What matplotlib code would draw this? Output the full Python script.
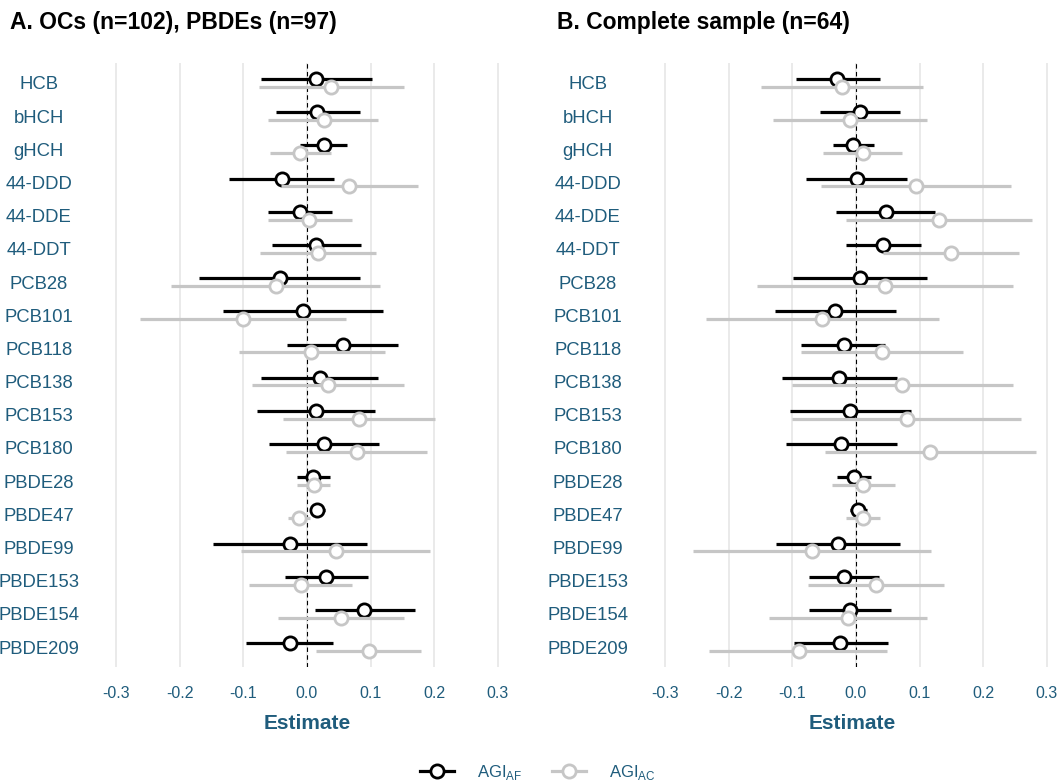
#Forest plots of AGI estimates by chemical

import numpy as np
import matplotlib
matplotlib.use("Agg")
import matplotlib.pyplot as plt
from matplotlib.lines import Line2D

plt.rcParams["font.family"] = ["Liberation Sans", "DejaVu Sans"]
plt.rcParams["mathtext.fontset"] = "custom"
plt.rcParams["mathtext.rm"] = "Liberation Sans"

chems = ["HCB", "bHCH", "gHCH", "44-DDD", "44-DDE", "44-DDT", "PCB28", "PCB101",
         "PCB118", "PCB138", "PCB153", "PCB180", "PBDE28", "PBDE47", "PBDE99",
         "PBDE153", "PBDE154", "PBDE209"]

# panel A: OCs (n=102), PBDEs (n=97)
a_af_est = [0.014, 0.016, 0.026, -0.040, -0.011, 0.014, -0.043, -0.007, 0.056, 0.020,
            0.014, 0.027, 0.010, 0.016, -0.027, 0.030, 0.090, -0.027]
a_af_lo = [-0.073, -0.049, -0.011, -0.123, -0.061, -0.055, -0.170, -0.132, -0.031, -0.072,
           -0.078, -0.059, -0.015, 0.004, -0.147, -0.035, 0.012, -0.096]
a_af_hi = [0.102, 0.083, 0.063, 0.043, 0.040, 0.085, 0.083, 0.119, 0.143, 0.111,
           0.107, 0.113, 0.036, 0.028, 0.094, 0.096, 0.169, 0.041]
a_ac_est = [0.038, 0.026, -0.011, 0.066, 0.003, 0.018, -0.048, -0.100, 0.007, 0.033,
            0.082, 0.078, 0.011, -0.013, 0.045, -0.010, 0.054, 0.098]
a_ac_lo = [-0.075, -0.061, -0.058, -0.041, -0.062, -0.074, -0.213, -0.263, -0.107, -0.086,
           -0.037, -0.033, -0.015, -0.030, -0.104, -0.091, -0.045, 0.014]
a_ac_hi = [0.153, 0.112, 0.038, 0.175, 0.070, 0.108, 0.115, 0.062, 0.122, 0.153,
           0.201, 0.189, 0.036, 0.004, 0.193, 0.071, 0.152, 0.179]

# panel B: complete sample (n=64)
b_af_est = [-0.029, 0.006, -0.004, 0.001, 0.047, 0.043, 0.006, -0.033, -0.019, -0.026,
            -0.010, -0.023, -0.003, 0.003, -0.028, -0.019, -0.009, -0.025]
b_af_lo = [-0.095, -0.057, -0.036, -0.078, -0.031, -0.016, -0.099, -0.128, -0.087, -0.116,
           -0.104, -0.110, -0.029, -0.009, -0.126, -0.074, -0.074, -0.098]
b_af_hi = [0.038, 0.069, 0.028, 0.081, 0.124, 0.102, 0.111, 0.063, 0.046, 0.065,
           0.086, 0.065, 0.023, 0.017, 0.070, 0.036, 0.055, 0.050]
b_ac_est = [-0.022, -0.010, 0.011, 0.094, 0.130, 0.149, 0.045, -0.054, 0.041, 0.073,
            0.080, 0.117, 0.011, 0.011, -0.069, 0.031, -0.013, -0.090]
b_ac_lo = [-0.149, -0.130, -0.051, -0.055, -0.015, 0.043, -0.155, -0.236, -0.087, -0.100,
           -0.101, -0.048, -0.038, -0.016, -0.256, -0.075, -0.136, -0.231]
b_ac_hi = [0.106, 0.112, 0.072, 0.244, 0.277, 0.256, 0.247, 0.130, 0.169, 0.247,
           0.260, 0.283, 0.061, 0.038, 0.118, 0.138, 0.111, 0.049]

xticks = [-0.3, -0.2, -0.1, 0.0, 0.1, 0.2, 0.3]

teal = "#1f5c7c"
grey = "#c6c6c6"
grid = "#e8e8e8"
dodge = 0.117

W, H = 1059, 782
fig = plt.figure(figsize=(W / 100, H / 100), dpi=100)

def panel(left, right, xmax, title, tx, af, ac):
    ax = fig.add_axes([left / W, (H - 667) / H, (right - left) / W, (667 - 63) / H])
    y = np.arange(len(chems))
    for i, (est, lo, hi) in enumerate([af, ac]):
        col = "black" if i == 0 else grey
        yy = y - dodge if i == 0 else y + dodge
        ax.hlines(yy, lo, hi, color=col, lw=2.3, zorder=3 + 2 * i)
        ax.plot(est, yy, "o", ms=9.5, mfc="white", mec=col, mew=2.0, ls="none",
                zorder=4 + 2 * i)
    ax.axvline(0, color="black", lw=0.8, ls=(0, (4, 3)), zorder=2)
    for t in xticks:
        ax.axvline(t, color=grid, lw=1.3, zorder=0)
    ax.set_xlim(-0.33, xmax)
    ax.set_ylim(len(chems) - 0.4, -0.6)
    ax.set_xticks(xticks)
    ax.set_xticklabels(["{:.1f}".format(t) for t in xticks])
    ax.set_yticks(y)
    ax.set_yticklabels(chems, ha="center")
    ax.tick_params(axis="y", length=0, pad=42, labelsize=13.3, labelcolor=teal)
    ax.tick_params(axis="x", length=0, pad=14, labelsize=11.5, labelcolor=teal)
    ax.set_xlabel("Estimate", fontsize=15, fontweight="bold", color=teal, labelpad=9)
    for s in ax.spines.values():
        s.set_visible(False)
    fig.text(tx / W, 1 - 22 / H, title, fontsize=16.5, fontweight="bold", va="center",
             ha="left")
    return ax

panel(97, 517, 0.33, "A. OCs (n=102), PBDEs (n=97)", 10,
      (a_af_est, a_af_lo, a_af_hi), (a_ac_est, a_ac_lo, a_ac_hi))
panel(646, 1059, (1059 - 856) / 636, "B. Complete sample (n=64)", 557,
      (b_af_est, b_af_lo, b_af_hi), (b_ac_est, b_ac_lo, b_ac_hi))

handles = [Line2D([], [], color="black", lw=2.3, marker="o", ms=9.5, mfc="white",
                  mec="black", mew=2.0),
           Line2D([], [], color=grey, lw=2.3, marker="o", ms=9.5, mfc="white",
                  mec=grey, mew=2.0)]
fig.legend(handles, [r"AGI$_{\mathrm{AF}}$", r"AGI$_{\mathrm{AC}}$"], loc="center",
           bbox_to_anchor=(538 / W, 1 - 772 / H), ncol=2, frameon=False,
           fontsize=12, labelcolor=teal, handlelength=2.0, columnspacing=1.8,
           handletextpad=1.4)

fig.savefig("out.png", dpi=100)
